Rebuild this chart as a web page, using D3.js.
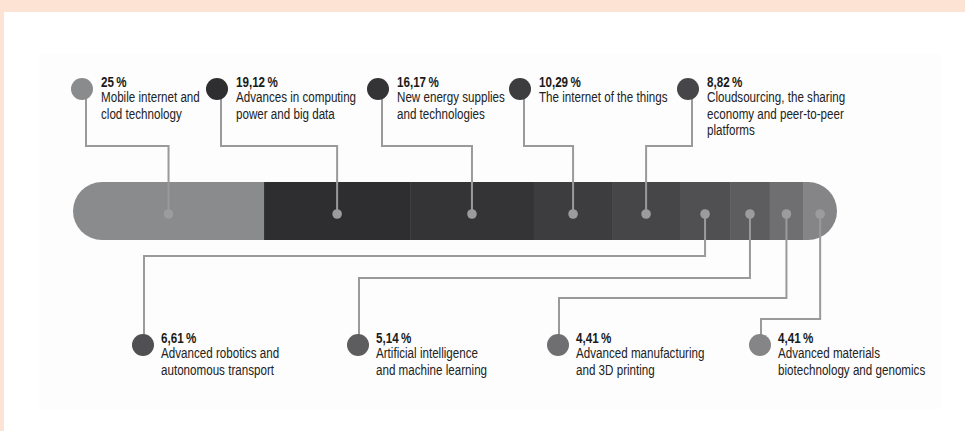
<!DOCTYPE html>
<html>
<head>
<meta charset="utf-8">
<script src="https://cdn.jsdelivr.net/npm/d3@7"></script>
<style>
  html, body { margin: 0; padding: 0; background: #ffffff; }
  svg { display: block; }
  .pct { font-family: "Liberation Sans", Arial, sans-serif; font-weight: bold; font-size: 15px; fill: #1a1a1a; }
  .lbl { font-family: "Liberation Sans", Arial, sans-serif; font-size: 15px; fill: #222222; }
</style>
</head>
<body>
<script>
// Share of each technology driver (percent)
const categories = [
  ["Mobile internet and", "clod technology"],
  ["Advances in computing", "power and big data"],
  ["New energy supplies", "and technologies"],
  ["The internet of the things"],
  ["Cloudsourcing, the sharing", "economy and peer-to-peer", "platforms"],
  ["Advanced robotics and", "autonomous transport"],
  ["Artificial intelligence", "and machine learning"],
  ["Advanced manufacturing", "and 3D printing"],
  ["Advanced materials", "biotechnology and genomics"]
];
const shares = [25, 19.12, 16.17, 10.29, 8.82, 6.61, 5.14, 4.41, 4.41];
const shareLabels = ["25", "19,12", "16,17", "10,29", "8,82", "6,61", "5,14", "4,41", "4,41"];
const shades = ["#8a8b8d", "#2e2e30", "#343436", "#3d3d3f", "#464648", "#505052", "#5d5d5f", "#6f6f71", "#858587"];

const W = 965, H = 431;
const svg = d3.select("body").append("svg").attr("width", W).attr("height", H);

// Page frame: peach strip on top and left, faint panel behind the chart
svg.append("rect").attr("x", 0).attr("y", 0).attr("width", W).attr("height", 12).attr("fill", "#fde3d3");
svg.append("rect").attr("x", 0).attr("y", 0).attr("width", 4).attr("height", H).attr("fill", "#fde3d3");
svg.append("rect").attr("x", 39).attr("y", 54).attr("width", 902).attr("height", 355).attr("fill", "#fdfdfd");

// Stacked bar geometry
const barTop = 182, barH = 58, barMid = 214;
const cum = d3.cumsum(shares);
const starts = shares.map((s, i) => cum[i] - s);
const x = d3.scaleLinear().domain([0, d3.sum(shares)]).range([73, 837]);

const defs = svg.append("defs");
defs.append("clipPath").attr("id", "barClip")
  .append("rect")
  .attr("x", x(0)).attr("y", barTop)
  .attr("width", x(d3.sum(shares)) - x(0)).attr("height", barH)
  .attr("rx", barH / 2).attr("ry", barH / 2);

const bar = svg.append("g").attr("clip-path", "url(#barClip)");
bar.selectAll("rect").data(shares).join("rect")
  .attr("x", (d, i) => x(starts[i]))
  .attr("y", barTop)
  .attr("width", (d, i) => x(starts[i] + d) - x(starts[i]) + 0.5)
  .attr("height", barH)
  .attr("fill", (d, i) => shades[i]);

const mids = shares.map((d, i) => (x(starts[i]) + x(starts[i] + d)) / 2);

// Callout placement: first five above the bar, the rest below
const topCx = [82, 217, 378, 520, 688];
const topElbowY = 146, topCy = 89;
const botCx = [143, 358, 558, 760];
const botElbowY = [256, 278, 298, 319];
const botCy = 345;

const lineColor = "#9a9a9c";
const leaders = svg.append("g").attr("fill", "none").attr("stroke", lineColor).attr("stroke-width", 2);

shares.forEach((d, i) => {
  let pts;
  if (i < 5) {
    const lx = topCx[i] + 4;
    pts = [[lx, topCy], [lx, topElbowY], [mids[i], topElbowY], [mids[i], barMid]];
  } else {
    const j = i - 5;
    const lx = botCx[j] + 1;
    pts = [[mids[i], barMid], [mids[i], botElbowY[j]], [lx, botElbowY[j]], [lx, botCy]];
  }
  leaders.append("path").attr("d", d3.line()(pts));
});

// Dots on the bar
svg.append("g").selectAll("circle").data(mids).join("circle")
  .attr("cx", d => d).attr("cy", barMid).attr("r", 4.8)
  .attr("fill", "#9c9c9e");

// Callout discs and labels (condensed horizontally)
const squeeze = 0.775;
shares.forEach((d, i) => {
  const isTop = i < 5;
  const cx = isTop ? topCx[i] : botCx[i - 5];
  const cy = isTop ? topCy : botCy;
  svg.append("circle").attr("cx", cx).attr("cy", cy).attr("r", 11).attr("fill", shades[i]);
  const tx = cx + (isTop ? 19 : 18);
  const base = isTop ? 87 : 343;
  const g = svg.append("g").attr("transform", `translate(${tx},${base}) scale(${squeeze},1)`);
  g.append("text").attr("class", "pct").attr("x", 0).attr("y", 0)
    .text(shareLabels[i] + "\u2009%");
  categories[i].forEach((line, k) => {
    g.append("text").attr("class", "lbl").attr("x", 0).attr("y", 15.5 + k * 16.3)
      .text(line);
  });
});
</script>
</body>
</html>
